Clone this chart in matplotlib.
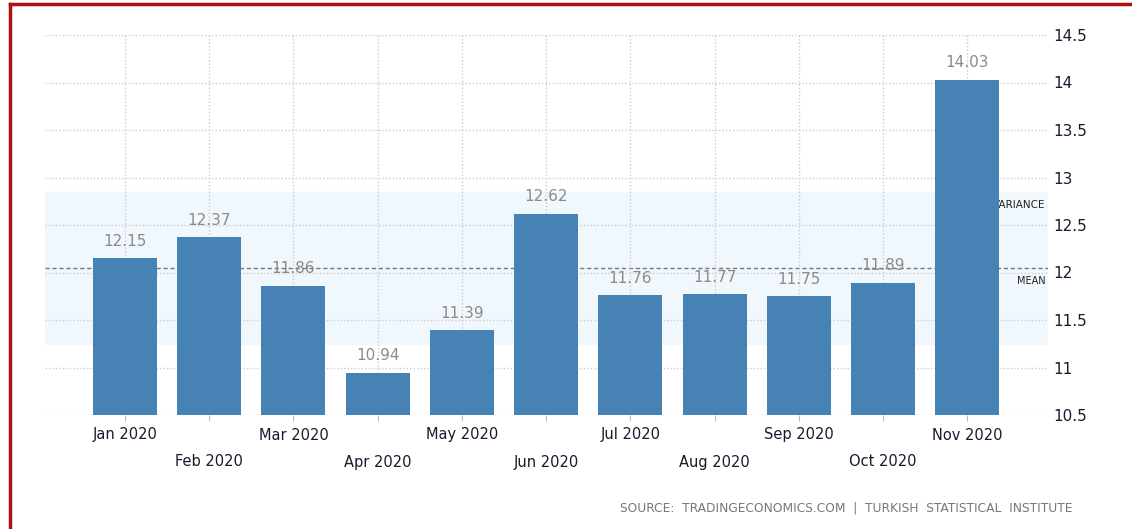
import numpy as np
import matplotlib.pyplot as plt
from matplotlib.transforms import ScaledTranslation
from matplotlib.lines import Line2D

# donnees
mois = ["Jan 2020", "Feb 2020", "Mar 2020", "Apr 2020", "May 2020", "Jun 2020",
        "Jul 2020", "Aug 2020", "Sep 2020", "Oct 2020", "Nov 2020"]
valeurs = [12.15, 12.37, 11.86, 10.94, 11.39, 12.62, 11.76, 11.77, 11.75, 11.89, 14.03]
graduations_y = [10.5, 11, 11.5, 12, 12.5, 13, 13.5, 14, 14.5]
source = "SOURCE:  TRADINGECONOMICS.COM  |  TURKISH  STATISTICAL  INSTITUTE"

moyenne = np.mean(valeurs)
ecart = np.std(valeurs, ddof=1)

fig = plt.figure(figsize=(11.32, 5.29), dpi=100)
ax = fig.add_axes([45 / 1132, 1 - 415 / 529, 1003 / 1132, 380 / 529])

x = np.arange(len(mois))
couleur_barre = "#4682b4"

# bande de variance et ligne de moyenne
ax.axhspan(moyenne - ecart, moyenne + ecart, color="#f0f7fd", zorder=0)
ax.axhline(moyenne, color="#777777", linestyle=(0, (3, 2)), linewidth=1, zorder=1)
ax.text(10.93, moyenne + ecart - 0.08, "VARIANCE", ha="right", va="top",
        fontsize=7.5, color="#222222", zorder=1)
ax.text(10.93, moyenne - 0.09, "MEAN", ha="right", va="top",
        fontsize=7, color="#222222", zorder=1)

barres = ax.bar(x, valeurs, width=0.76, color=couleur_barre, zorder=3)
for xi, v in zip(x, valeurs):
    ax.annotate(f"{v:.2f}", (xi, v), xytext=(0, 7), textcoords="offset points",
                ha="center", va="bottom", fontsize=11, color="#8a8a8a", zorder=4)

ax.set_xlim(-0.95, 10.96)
ax.set_ylim(10.5, 14.5)

ax.set_yticks(graduations_y)
ax.set_yticklabels([f"{g:g}" for g in graduations_y])
ax.yaxis.tick_right()
ax.tick_params(axis="y", length=0, pad=4, labelsize=11, labelcolor="#1a1a2e")

ax.set_xticks(x)
ax.set_xticklabels(mois)
ax.tick_params(axis="x", length=4, color="#bbbbbb", pad=5, labelsize=10.5,
               labelcolor="#1a1a2e")
for i, lbl in enumerate(ax.get_xticklabels()):
    if i % 2 == 1:
        lbl.set_transform(lbl.get_transform() +
                          ScaledTranslation(0, -0.27, fig.dpi_scale_trans))

ax.grid(True, color="#cccccc", linestyle=(0, (1, 1.5)), linewidth=1, zorder=2)
ax.set_axisbelow(False)
for ligne in ax.get_xgridlines() + ax.get_ygridlines():
    ligne.set_zorder(2)
for s in ax.spines.values():
    s.set_visible(False)
ax.patch.set_alpha(0)

fig.text(1072 / 1132, 1 - 508 / 529, source, ha="right", va="center",
         fontsize=8.8, color="#777777")

# cadre rouge (haut et gauche)
fig.add_artist(Line2D([10 / 1132, 1], [1 - 4 / 529, 1 - 4 / 529],
                      transform=fig.transFigure, color="#b01010", linewidth=2.5))
fig.add_artist(Line2D([10 / 1132, 10 / 1132], [0, 1 - 4 / 529],
                      transform=fig.transFigure, color="#b01010", linewidth=2.5))

fig.savefig("out.png", dpi=100)
